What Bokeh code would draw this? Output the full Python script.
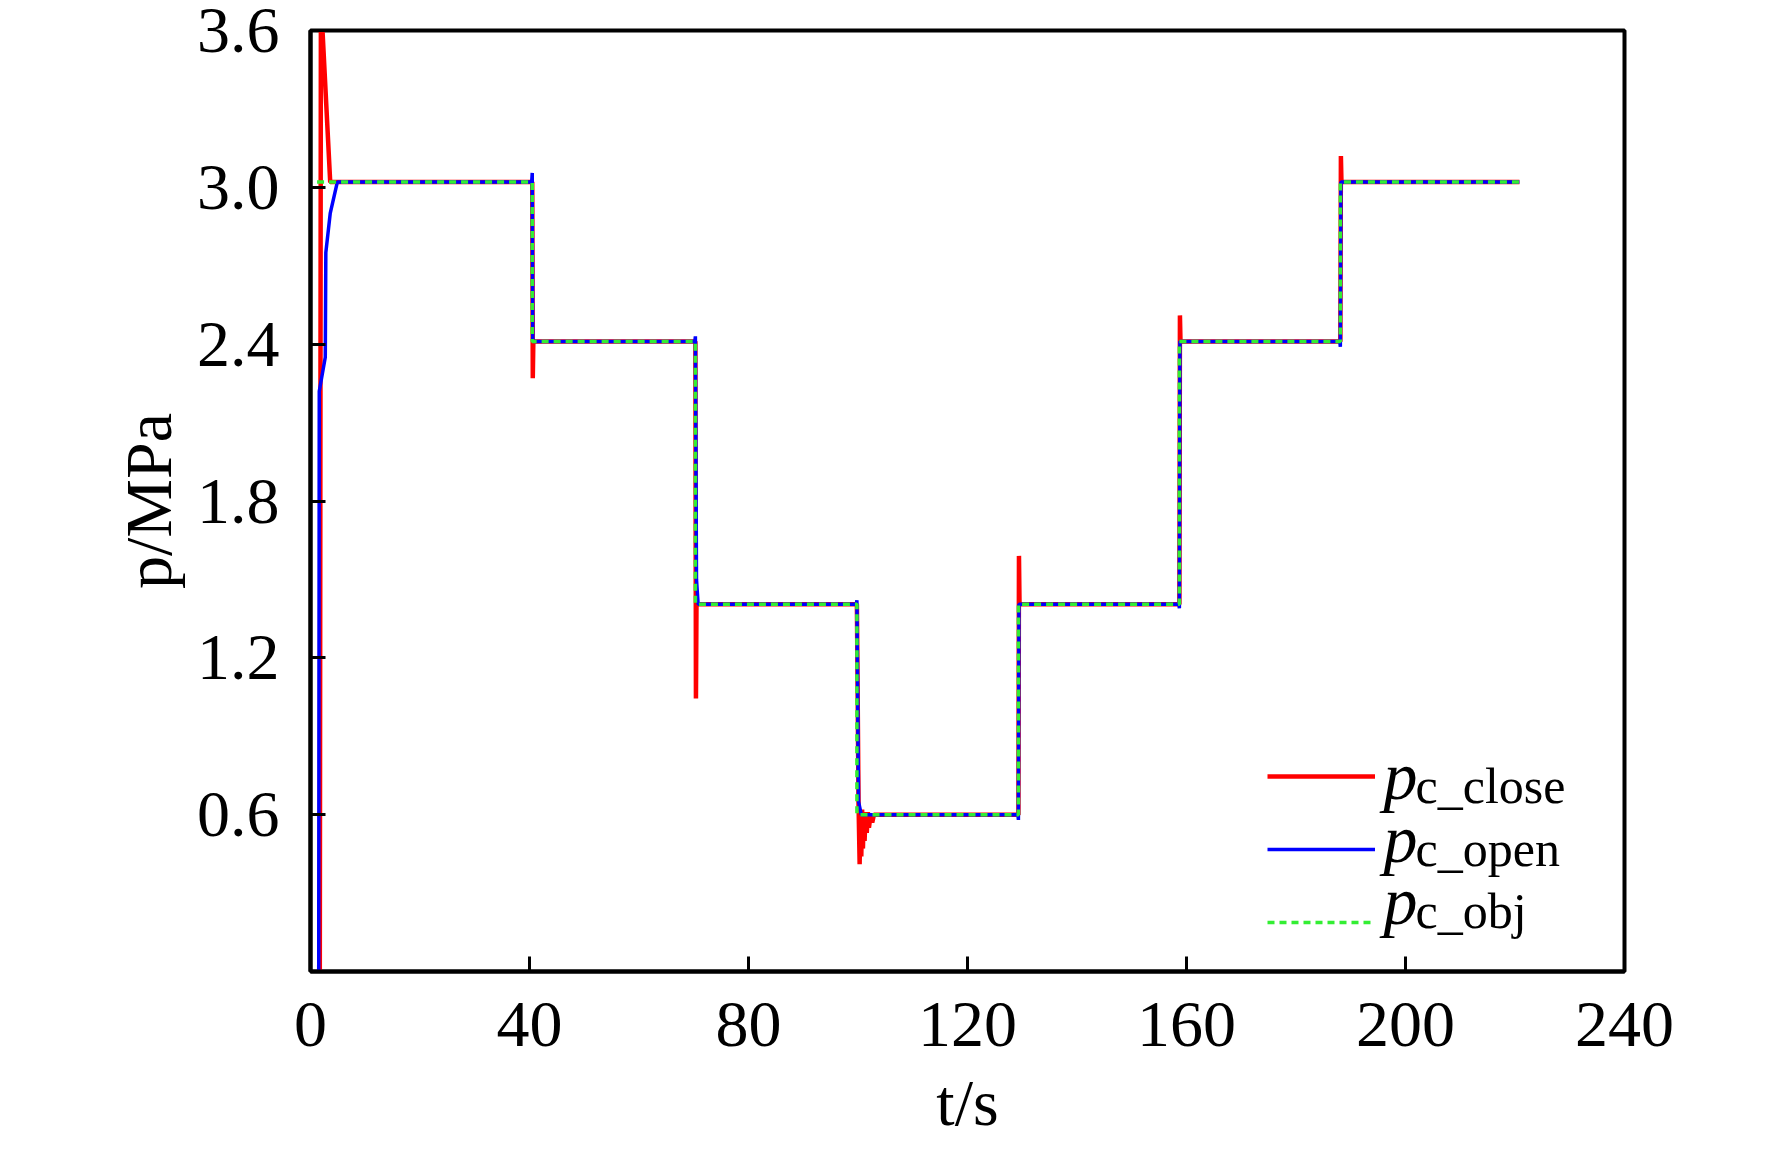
from bokeh.plotting import figure
from bokeh.models import (Range1d, FixedTicker, PrintfTickFormatter, Label,
                          Legend, LegendItem)
from bokeh.embed import file_html
from bokeh.resources import INLINE

# ---------------- data ----------------
obj_t = [1.2, 40.5, 40.5, 70.3, 70.3, 99.8, 99.8, 129.3, 129.3,
         158.7, 158.7, 188.1, 188.1, 220.8]
obj_p = [3.02, 3.02, 2.41, 2.41, 1.405, 1.405, 0.60, 0.60, 1.405,
         1.405, 2.41, 2.41, 3.02, 3.02]

open_t = [1.5, 1.6, 2.7, 2.8, 3.6, 4.9, 40.4, 40.5, 40.6, 70.2, 70.3,
          70.5, 70.8, 99.7, 99.8, 100.1, 100.6, 129.2, 129.3, 129.4,
          158.6, 158.7, 158.8, 188.0, 188.1, 188.2, 220.8]
open_p = [0.0, 2.22, 2.35, 2.75, 2.90, 3.02, 3.02, 3.055, 2.41, 2.41, 2.43,
          1.50, 1.405, 1.405, 1.42, 0.65, 0.60, 0.60, 0.58, 1.405,
          1.405, 1.39, 2.41, 2.41, 2.39, 3.02, 3.02]

close_t = [1.7, 1.9, 3.6, 40.5, 40.6, 40.7, 70.3, 70.4, 70.5, 99.8,
           100.1, 100.3, 100.45, 100.6, 100.75, 100.9, 101.05, 101.2,
           101.4, 101.6, 101.8, 102.0, 102.3, 102.6, 102.9, 103.3,
           129.3, 129.4, 129.5, 158.7, 158.8, 158.9,
           188.1, 188.2, 188.3, 220.8]
close_p = [0.0, 3.72, 3.02, 3.02, 2.27, 2.41, 2.41, 1.044, 1.405, 1.405,
           0.64, 0.41, 0.62, 0.44, 0.62, 0.47, 0.61, 0.50, 0.61, 0.53,
           0.61, 0.55, 0.60, 0.57, 0.60, 0.60,
           0.60, 1.59, 1.405, 1.405, 2.51, 2.41,
           2.41, 3.12, 3.02, 3.02]

x_ticks = [0, 40, 80, 120, 160, 200, 240]
y_ticks = [0.6, 1.2, 1.8, 2.4, 3.0, 3.6]

legend_names = ["c_close", "c_open", "c_obj"]

FONT = "Liberation Serif"

# ---------------- figure ----------------
p = figure(width=1756, height=1141, output_backend="svg", toolbar_location=None,
           x_range=Range1d(0, 240), y_range=Range1d(0, 3.6),
           min_border_left=310, min_border_right=132,
           min_border_top=30, min_border_bottom=166)
p.background_fill_color = "white"
p.border_fill_color = "white"
p.grid.visible = False
p.outline_line_color = "black"
p.outline_line_width = 4

for ax in (p.xaxis[0], p.yaxis[0]):
    ax.axis_line_width = 4
    ax.axis_line_color = "black"
    ax.major_tick_in = 15
    ax.major_tick_out = 0
    ax.major_tick_line_width = 3
    ax.minor_tick_line_color = None
    ax.major_label_text_font = FONT
    ax.major_label_text_font_size = "66px"
    ax.major_label_text_color = "black"
    ax.axis_label_text_font = FONT
    ax.axis_label_text_font_size = "66px"
    ax.axis_label_text_font_style = "normal"
    ax.axis_label_text_color = "black"

p.yaxis[0].major_label_text_line_height = 0.9

p.xaxis[0].ticker = FixedTicker(ticks=x_ticks)
p.yaxis[0].ticker = FixedTicker(ticks=y_ticks)
p.yaxis[0].formatter = PrintfTickFormatter(format="%.1f")
p.xaxis[0].major_label_standoff = 31
p.yaxis[0].major_label_standoff = 31
p.xaxis[0].axis_label = "t/s"
p.yaxis[0].axis_label = "p/MPa"
p.xaxis[0].axis_label_standoff = 17
p.yaxis[0].axis_label_standoff = 9

r_close = p.line(close_t, close_p, line_color="#ff0000", line_width=4.5)
r_open = p.line(open_t, open_p, line_color="#0000ff", line_width=3.5)
r_obj = p.line(obj_t, obj_p, line_color="#33ee33", line_width=3.5,
               line_dash="7 5")

# legend glyphs (labels drawn separately for subscripts)
legend = Legend(items=[LegendItem(label="", renderers=[r]) for r in
                       (r_close, r_open, r_obj)],
                location=(957, 39), orientation="vertical",
                glyph_width=108, glyph_height=20, label_height=20,
                label_width=0, label_standoff=0, spacing=53,
                padding=0, margin=0, label_text_font_size="1px",
                border_line_alpha=0, background_fill_alpha=0)
p.add_layout(legend, "center")

legend_sy = [196, 133, 71]
for name, sy in zip(legend_names, legend_sy):
    p.add_layout(Label(x=1073, y=sy, x_units="screen", y_units="screen",
                       text="p", text_font=FONT, text_font_style="italic",
                       text_font_size="68px", text_baseline="alphabetic",
                       text_align="left", text_color="black"))
    p.add_layout(Label(x=1105, y=sy - 10, x_units="screen", y_units="screen",
                       text=name, text_font=FONT, text_font_size="50px",
                       text_baseline="alphabetic", text_align="left",
                       text_color="black"))

open("out.html", "w").write(file_html(p, INLINE))
